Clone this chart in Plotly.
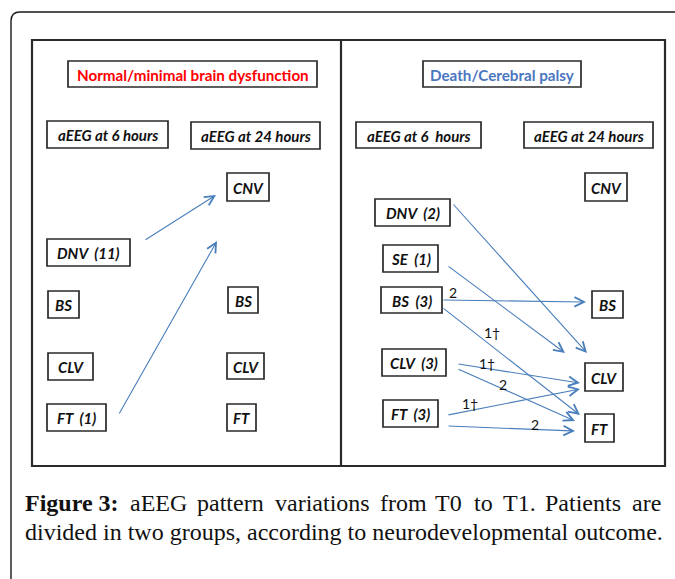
import plotly.graph_objects as go

# ---------------- data ----------------
panel_titles = ["Normal/minimal brain dysfunction", "Death/Cerebral palsy"]
headers_left = ["aEEG at 6 hours", "aEEG at 24 hours"]
headers_right = ["aEEG at 6  hours", "aEEG at 24 hours"]
left_t0 = ["DNV  (11)", "BS", "CLV", "FT  (1)"]
left_t1 = ["CNV", "BS", "CLV", "FT"]
right_t0 = ["DNV  (2)", "SE  (1)", "BS  (3)", "CLV  (3)", "FT  (3)"]
right_t1 = ["CNV", "BS", "CLV", "FT"]
left_from = ["DNV  (11)", "FT  (1)"]
left_to = ["CNV", "CNV"]
right_from = ["DNV  (2)", "SE  (1)", "BS  (3)", "BS  (3)", "CLV  (3)", "CLV  (3)", "FT  (3)", "FT  (3)"]
right_to = ["CLV", "CLV", "BS", "FT", "CLV", "FT", "CLV", "FT"]
right_counts = ["", "", "2", "1†", "1†", "2", "1†", "2"]
caption_bold = "Figure 3:"
caption_line1 = ["aEEG", "pattern", "variations", "from", "T0", "to", "T1.", "Patients", "are"]
caption_line2 = "divided in two groups, according to neurodevelopmental outcome."

# ---------------- layout geometry (pixels) ----------------
W, H = 675, 579
box_geom = {
    ("L", "title"): (68, 317, 61, 87),
    ("R", "title"): (423, 581, 61, 87),
    ("L", "h6"): (47, 168, 121, 148),
    ("L", "h24"): (191, 320, 122, 149),
    ("R", "h6"): (356, 481, 122, 148),
    ("R", "h24"): (524, 653, 122, 148),
    ("L0", "DNV  (11)"): (47, 130, 239, 266),
    ("L0", "BS"): (48, 79, 291, 318),
    ("L0", "CLV"): (48, 93, 353, 380),
    ("L0", "FT  (1)"): (47, 106, 404, 431),
    ("L1", "CNV"): (227, 269, 173, 201),
    ("L1", "BS"): (228, 258, 287, 313),
    ("L1", "CLV"): (227, 264, 353, 379),
    ("L1", "FT"): (227, 256, 404, 431),
    ("R0", "DNV  (2)"): (375, 450, 199, 226),
    ("R0", "SE  (1)"): (383, 438, 245, 272),
    ("R0", "BS  (3)"): (381, 442, 287, 313),
    ("R0", "CLV  (3)"): (382, 446, 349, 376),
    ("R0", "FT  (3)"): (383, 438, 400, 427),
    ("R1", "CNV"): (585, 627, 173, 201),
    ("R1", "BS"): (592, 623, 291, 318),
    ("R1", "CLV"): (585, 623, 363, 391),
    ("R1", "FT"): (585, 614, 414, 442),
}
# arrow tails/tips, same order as transitions
left_arrow_geom = [((145, 240), (216, 195)), ((119, 414), (217, 241))]
right_arrow_geom = [
    ((453, 204), (587, 353)),
    ((448, 266), (565, 353)),
    ((443, 300), (586, 302)),
    ((443, 308), (580, 415)),
    ((458, 364), (580, 383)),
    ((458, 369), (575, 421)),
    ((448, 415), (580, 389)),
    ((448, 426), (575, 431)),
]
count_label_pos = [None, None, (453, 292), (492, 332), (487, 363), (503, 384), (470, 403), (535, 424)]
caption_x1 = [129, 196, 274, 379, 434, 473, 502, 544, 631]

BOX_LINE = "#2a2a2a"
ARROW = "#4a7ebb"
SANS = "Lato, Carlito, sans-serif"
BOX_FONT = dict(family=SANS, size=15, color="#111111")

fig = go.Figure()
fig.add_trace(go.Scatter(x=[0, W], y=[0, H], mode="markers", marker=dict(opacity=0), hoverinfo="skip",
                         showlegend=False))

shapes = []
annotations = []

# outer rounded frame (extends beyond the visible area)
shapes.append(dict(type="path", path="M 11,620 L 11,21 Q 11,12 20,12 L 720,12",
                   line=dict(color="#1a1a1a", width=1.4), xref="x", yref="y"))
# inner frame and divider
shapes.append(dict(type="rect", x0=32, x1=665, y0=40, y1=466, line=dict(color="#2a2a2a", width=2.2)))
shapes.append(dict(type="line", x0=341, x1=341, y0=40, y1=466, line=dict(color="#2a2a2a", width=2.2)))


def nb(s):
    return s.replace(" ", "\u00a0")


def add_box(key, text, font, bold_only=False):
    x0, x1, y0, y1 = box_geom[key]
    shapes.append(dict(type="rect", x0=x0, x1=x1, y0=y0, y1=y1, line=dict(color=BOX_LINE, width=1.7)))
    t = f"<b>{nb(text)}</b>" if bold_only else f"<b><i>{nb(text)}</i></b>"
    annotations.append(dict(x=(x0 + x1) / 2, y=(y0 + y1) / 2 + 0.5, text=t, showarrow=False,
                            xanchor="center", yanchor="middle", font=font))


title_font_l = dict(family=SANS, size=15.2, color="#ff0000")
title_font_r = dict(family=SANS, size=15.2, color="#4a76c0")
add_box(("L", "title"), panel_titles[0], title_font_l, bold_only=True)
add_box(("R", "title"), panel_titles[1], title_font_r, bold_only=True)
add_box(("L", "h6"), headers_left[0], BOX_FONT)
add_box(("L", "h24"), headers_left[1], BOX_FONT)
add_box(("R", "h6"), headers_right[0], BOX_FONT)
add_box(("R", "h24"), headers_right[1], BOX_FONT)
for n in left_t0:
    add_box(("L0", n), n, BOX_FONT)
for n in left_t1:
    add_box(("L1", n), n, BOX_FONT)
for n in right_t0:
    add_box(("R0", n), n, BOX_FONT)
for n in right_t1:
    add_box(("R1", n), n, BOX_FONT)


def add_arrow(tail, tip):
    annotations.append(dict(x=tip[0], y=tip[1], ax=tail[0], ay=tail[1], xref="x", yref="y",
                            axref="x", ayref="y", text="", showarrow=True, arrowhead=5,
                            arrowsize=1.7, arrowwidth=1.1, arrowcolor=ARROW, standoff=0))


for (src, dst), (tail, tip) in zip(zip(left_from, left_to), left_arrow_geom):
    add_arrow(tail, tip)
for (src, dst, c), (tail, tip), lp in zip(zip(right_from, right_to, right_counts), right_arrow_geom, count_label_pos):
    add_arrow(tail, tip)
    if c:
        annotations.append(dict(x=lp[0], y=lp[1], text=c, showarrow=False, xanchor="center", yanchor="middle",
                                font=dict(family=SANS, size=14, color="#111111")))

# caption
CAP_FONT = dict(family="Liberation Serif, Times New Roman, serif", size=24, color="#111111")
annotations.append(dict(x=24, y=503, text=f"<b>{caption_bold}</b>", showarrow=False, xanchor="left",
                        yanchor="middle", font=CAP_FONT))
for w, xw in zip(caption_line1, caption_x1):
    annotations.append(dict(x=xw, y=503, text=w, showarrow=False, xanchor="left", yanchor="middle", font=CAP_FONT))
annotations.append(dict(x=24, y=532, text=caption_line2, showarrow=False, xanchor="left", yanchor="middle",
                        font=CAP_FONT))

fig.update_layout(
    width=W, height=H, margin=dict(l=0, r=0, t=0, b=0),
    paper_bgcolor="white", plot_bgcolor="white",
    xaxis=dict(range=[0, W], visible=False, fixedrange=True),
    yaxis=dict(range=[H, 0], visible=False, fixedrange=True),
    shapes=shapes, annotations=annotations, showlegend=False,
)
for a in fig.layout.annotations:
    a.update(borderpad=0)

fig.write_html("out.html", config={"displayModeBar": False},
               post_script="document.body.style.margin='0';document.body.style.padding='0';")
